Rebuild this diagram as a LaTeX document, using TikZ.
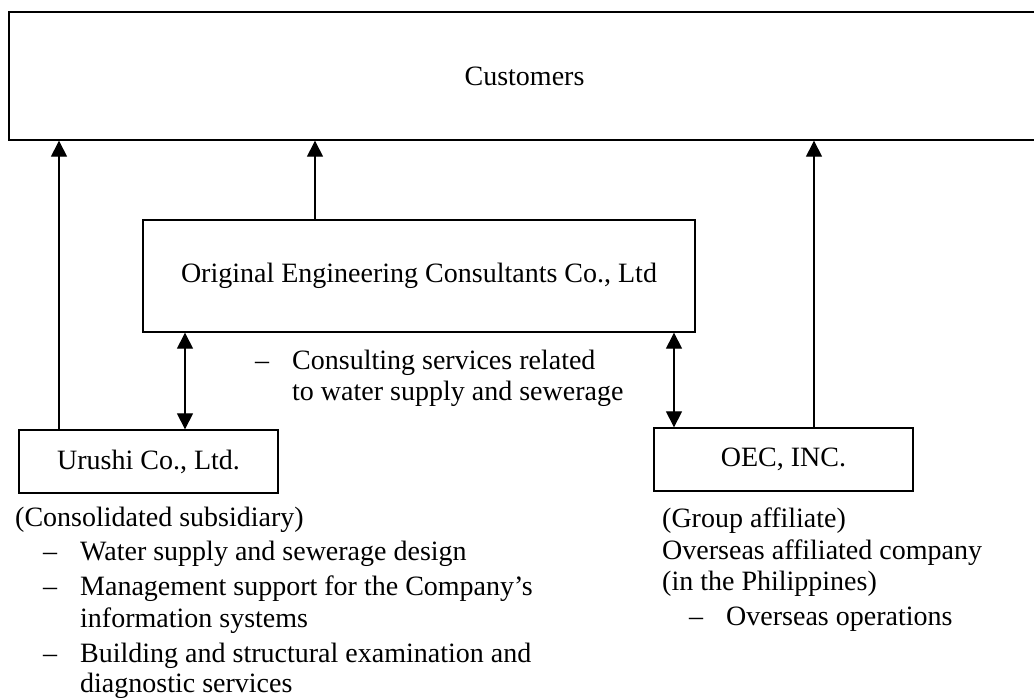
\documentclass[tikz,border=0pt]{standalone}
\usepackage{fontspec}
\setmainfont{Liberation Serif}
\usetikzlibrary{arrows.meta}

\begin{document}
\begin{tikzpicture}[x=1pt,y=-1pt]
\tikzstyle{every node}=[font=\fontsize{28}{34}\selectfont, inner sep=0pt]
\tikzstyle{box}=[draw, line width=1.3pt]
\tikzstyle{up}=[-{Triangle[length=16pt,width=16pt]}, line width=1.1pt]
\tikzstyle{both}=[{Triangle[length=16pt,width=16pt]}-{Triangle[length=16pt,width=16pt]}, line width=1.1pt]
\tikzstyle{line}=[anchor=base west]

\useasboundingbox (0,0) rectangle (1034,697);

% boxes
\path (524.5,76) node[box, minimum width=1031pt, minimum height=128pt] (cust) {Customers};
\path (419,276) node[box, minimum width=552pt, minimum height=112pt] (oecl) {Original Engineering Consultants Co., Ltd};
\path (148.5,461.5) node[box, minimum width=259pt, minimum height=63pt] (urushi) {Urushi Co., Ltd.};
\path (783.5,459.5) node[box, minimum width=259pt, minimum height=63pt] (oecinc) {OEC, INC.};

% where the connectors run
\coordinate (c1) at (59,0);
\coordinate (c2) at (315,0);
\coordinate (c3) at (814,0);
\coordinate (c4) at (185,0);
\coordinate (c5) at (674,0);

\draw[up] (urushi.north -| c1) -- (cust.south -| c1);
\draw[up] (oecl.north -| c2) -- (cust.south -| c2);
\draw[up] (oecinc.north -| c3) -- (cust.south -| c3);
\draw[both] (oecl.south -| c4) -- (urushi.north -| c4);
\draw[both] (oecl.south -| c5) -- (oecinc.north -| c5);

% middle text
\path (255,369) node[line] (m0) {--};
\path (292,369) node[line] (m1) {Consulting services related};
\path (292,400) node[line] (m2) {to water supply and sewerage};

% Urushi text
\path (15,526) node[line] (u0) {(Consolidated subsidiary)};
\foreach \y/\n in {560/u1,595/u2,662/u3}{
    \path (43,\y) node[line] (\n-d) {--};
}
\path (80,560) node[line] (u1) {Water supply and sewerage design};
\path (80,595) node[line] (u2) {Management support for the Company’s};
\path (80,627) node[line] (u2b) {information systems};
\path (80,662) node[line] (u3) {Building and structural examination and};
\path (80,692) node[line] (u3b) {diagnostic services};

% OEC, INC. text
\path (662,527) node[line] (r0) {(Group affiliate)};
\path (662,559) node[line] (r1) {Overseas affiliated company};
\path (662,590) node[line] (r2) {(in the Philippines)};
\path (689,625) node[line] (r3-d) {--};
\path (726,625) node[line] (r3) {Overseas operations};
\end{tikzpicture}
\end{document}
